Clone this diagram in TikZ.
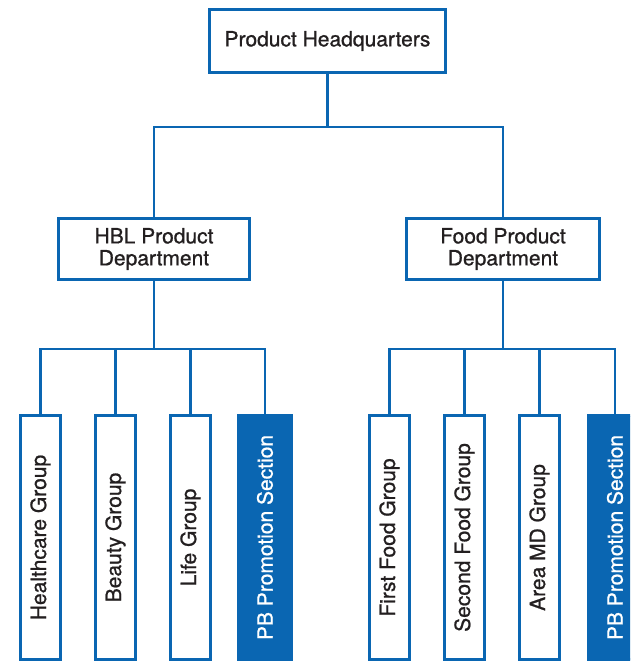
\documentclass[tikz,border=0pt]{standalone}
\usepackage{fontspec}
\newfontfamily\orgfont{TeX Gyre Heros}[FakeBold=0.9]
\definecolor{orgblue}{HTML}{0A66B2}
\definecolor{orgtext}{HTML}{231F20}
\begin{document}
\begin{tikzpicture}[x=1pt,y=-1pt,
  every node/.style={font=\orgfont\fontsize{21}{22}\selectfont, text=orgtext, inner sep=0pt, align=center},
  unitbox/.style={draw=orgblue, line width=2.8pt, fill=white},
  groupbox/.style={unitbox, minimum width=40pt, minimum height=244pt},
  sectionbox/.style={draw=orgblue, fill=orgblue, line width=2.8pt, minimum width=53pt, minimum height=244pt},
  vlabel/.style={rotate=90},
  link/.style={draw=orgblue, line width=2.8pt}]
  \useasboundingbox (0,0) rectangle (630,663);
  \begin{scope}
  \clip (0,0) rectangle (630,663);

  % top level and departments
  \node[unitbox, minimum width=236pt, minimum height=63pt] (hq) at (327.5,41) {Product Headquarters};
  \node[unitbox, minimum width=191pt, minimum height=61pt] (hbl) at (154,249) {HBL Product\\Department};
  \node[unitbox, minimum width=193pt, minimum height=61pt] (food) at (503,249) {Food Product\\Department};

  % groups under the HBL department
  \node[groupbox] (hc) at (40.5,537.5) {};
  \node[vlabel] at (hc) {Healthcare Group};
  \node[groupbox] (beauty) at (115.5,537.5) {};
  \node[vlabel] at (beauty) {Beauty Group};
  \node[groupbox] (life) at (190.5,537.5) {};
  \node[vlabel] at (life) {Life Group};
  \node[sectionbox] (pbh) at (265,537.5) {};
  \node[vlabel, text=white] at (pbh) {PB Promotion Section};

  % groups under the food department
  \node[groupbox] (ffood) at (389.5,537.5) {};
  \node[vlabel] at (ffood) {First Food Group};
  \node[groupbox] (sfood) at (464.5,537.5) {};
  \node[vlabel] at (sfood) {Second Food Group};
  \node[groupbox] (area) at (539.5,537.5) {};
  \node[vlabel] at (area) {Area MD Group};
  \node[sectionbox] (pbf) at (615,537.5) {};
  \node[vlabel, text=white] at (pbf) {PB Promotion Section};

  % bus junctions
  \coordinate (bus0) at (327.5,127);
  \coordinate (bus1) at (154,349);
  \coordinate (bus2) at (503,349);

  % connectors
  \draw[link] (hq.south) -- (bus0);
  \draw[link] (hbl.north) |- (bus0) -| (food.north);
  \draw[link] (hbl.south) -- (bus1);
  \draw[link] (hc.north) |- (bus1) -| (pbh.north);
  \draw[link] (beauty.north) -- (beauty.north |- bus1);
  \draw[link] (life.north) -- (life.north |- bus1);
  \draw[link] (food.south) -- (bus2);
  \draw[link] (ffood.north) |- (bus2) -| (pbf.north);
  \draw[link] (sfood.north) -- (sfood.north |- bus2);
  \draw[link] (area.north) -- (area.north |- bus2);
  \end{scope}
\end{tikzpicture}
\end{document}
